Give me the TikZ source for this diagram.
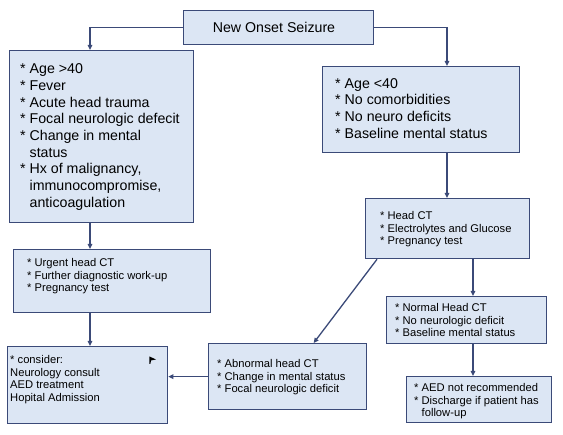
\documentclass[tikz,border=0pt]{standalone}
\usepackage{fontspec}
\setmainfont{Liberation Sans}
\usetikzlibrary{calc,arrows.meta}

\definecolor{boxfill}{HTML}{DCE6F4}
\definecolor{boxline}{HTML}{3B4A78}
\def\bigtext{\fontsize{14.2}{16.7}\selectfont}
\def\smalltext{\fontsize{11.2}{12.7}\selectfont}

\tikzset{
	box/.style={draw=boxline, fill=boxfill, line width=1.3pt, inner sep=0pt, anchor=north west},
	txt/.style={inner sep=0pt, anchor=north west, align=left},
	arr/.style={draw=boxline, line width=1.3pt, -{Triangle[length=5pt,width=4.5pt]}}
}

\begin{document}
\begin{tikzpicture}[x=1pt, y=-1pt]
			%%%%% START %%%%%
			\useasboundingbox (0,0) rectangle (563,435);
			
			\coordinate (lcol) at (90,0);
			\coordinate (rcol) at (447,0);
			\coordinate (ccol) at (473,0);
			
			% boxes
			\node[box, minimum width=190pt, minimum height=34pt] (onset) at (183,10) {};
			\node[box, minimum width=184pt, minimum height=172pt] (older) at (9,50) {};
			\node[box, minimum width=197pt, minimum height=86pt] (young) at (322,66) {};
			\node[box, minimum width=164pt, minimum height=60pt] (tests) at (365,198) {};
			\node[box, minimum width=160pt, minimum height=47pt] (normal) at (386,296) {};
			\node[box, minimum width=145pt, minimum height=46pt] (noaed) at (406,376) {};
			\node[box, minimum width=158pt, minimum height=66pt] (abnormal) at (208,343) {};
			\node[box, minimum width=160pt, minimum height=77pt] (consider) at (7,346) {};
			\node[box, minimum width=197pt, minimum height=63pt] (urgent) at (13,249) {};
			
			% texts
			\node[font=\bigtext, inner sep=0pt] (onset-t) at (274,27) {New Onset Seizure};
			\node[txt, font=\bigtext] (older-t) at (20,63.5) {* Age >40\\* Fever\\* Acute head trauma\\* Focal neurologic defecit\\* Change in mental\\\phantom{* }status\\* Hx of malignancy,\\\phantom{* }immunocompromise,\\\phantom{* }anticoagulation};
			\node[txt, font=\bigtext] (young-t) at (335,78) {* Age <40\\* No comorbidities\\* No neuro deficits\\* Baseline mental status};
			\node[txt, font=\smalltext] (tests-t) at (380,211) {* Head CT\\* Electrolytes and Glucose\\* Pregnancy test};
			\node[txt, font=\smalltext] (normal-t) at (395,303) {* Normal Head CT\\* No neurologic deficit\\* Baseline mental status};
			\node[txt, font=\smalltext] (noaed-t) at (414,383) {* AED not recommended\\* Discharge if patient has\\\phantom{* }follow-up};
			\node[txt, font=\smalltext] (abnormal-t) at (217,359) {* Abnormal head CT\\* Change in mental status\\* Focal neurologic deficit};
			\node[txt, font=\smalltext] (consider-t) at (10,355) {* consider:\\Neurology consult\\AED treatment\\Hopital Admission};
			\node[txt, font=\smalltext] (urgent-t) at (27,258) {* Urgent head CT\\* Further diagnostic work-up\\* Pregnancy test};
			
			% flag
			\fill[black] (149.5,356.5) -- (156,359.5) -- (151,360.5) -- (150.3,364) -- (149.3,364) -- cycle;
			
			% arrows
			\draw[arr] (onset.west) -| (older.north -| lcol);
			\draw[arr] (onset.east) -| (young.north -| rcol);
			\draw[arr] (older.south -| lcol) -- (urgent.north -| lcol);
			\draw[arr] (urgent.south -| lcol) -- (consider.north -| lcol);
			\draw[arr] (young.south -| rcol) -- (tests.north -| rcol);
			\draw[arr] (tests.south -| ccol) -- (normal.north -| ccol);
			\draw[arr] (normal.south -| ccol) -- (noaed.north -| ccol);
			\draw[arr] ([xshift=12pt]tests.south west) -- ([xshift=26pt]abnormal.north);
			\draw[arr] (abnormal.west) -- (abnormal.west -| consider.east);
			
			%%%%% END %%%%%
\end{tikzpicture}
\end{document}
